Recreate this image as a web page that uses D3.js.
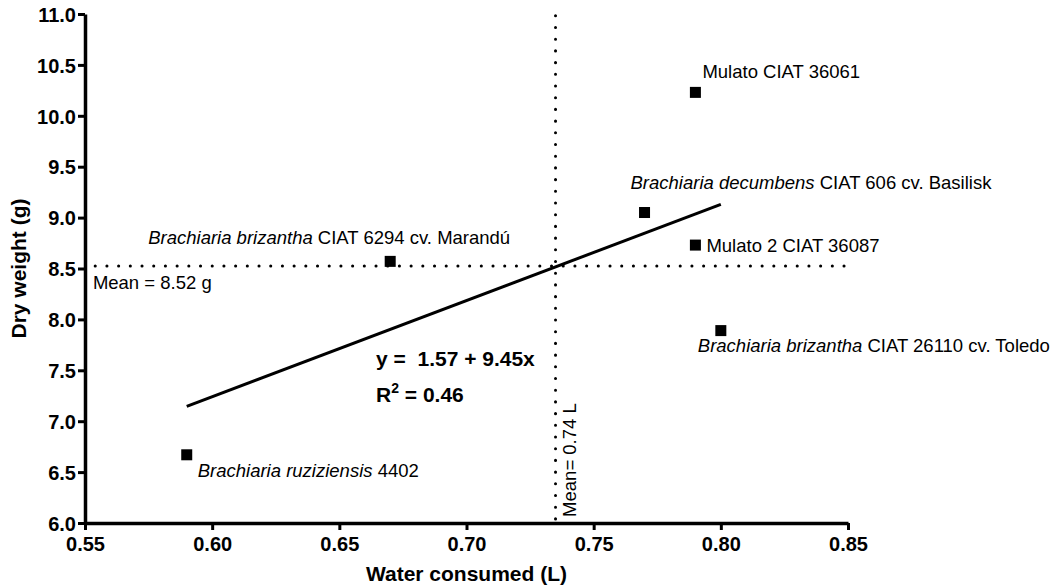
<!DOCTYPE html>
<html>
<head>
<meta charset="utf-8">
<script src="https://cdn.jsdelivr.net/npm/d3@7"></script>
<style>
  html, body { margin: 0; padding: 0; background: #fff; }
  svg { display: block; font-family: "Liberation Sans", Arial, sans-serif; }
</style>
</head>
<body>
<svg id="chart" width="1060" height="588"></svg>
<script>
// Accessions and their measurements
const accessions = [
  "Mulato CIAT 36061",
  "Brachiaria decumbens CIAT 606 cv. Basilisk",
  "Mulato 2 CIAT 36087",
  "Brachiaria brizantha CIAT 26110 cv. Toledo",
  "Brachiaria brizantha CIAT 6294 cv. Marandú",
  "Brachiaria ruziziensis 4402"
];
const waterConsumed = [0.79, 0.77, 0.79, 0.80, 0.67, 0.59];
const dryWeight = [10.23, 9.05, 8.73, 7.89, 8.57, 6.67];

// Label parts: [italic species part, roman remainder]
const labelParts = [
  ["", "Mulato CIAT 36061"],
  ["Brachiaria decumbens", " CIAT 606 cv. Basilisk"],
  ["", "Mulato 2 CIAT 36087"],
  ["Brachiaria brizantha", " CIAT 26110 cv. Toledo"],
  ["Brachiaria brizantha", " CIAT 6294 cv. Marandú"],
  ["Brachiaria ruziziensis", " 4402"]
];
// Label offsets relative to each marker (dx, dy)
const labelOffsets = [[7, -14], [-14, -24], [11, 7], [-23, 21], [-242, -17], [11, 22]];

const xTicks = [0.55, 0.60, 0.65, 0.70, 0.75, 0.80, 0.85];
const yTicks = [6.0, 6.5, 7.0, 7.5, 8.0, 8.5, 9.0, 9.5, 10.0, 10.5, 11.0];

// Linear fit reported for the data
const intercept = 1.57, slope = 9.45, rSquared = 0.46;

const svg = d3.select("#chart");
const x = d3.scaleLinear().domain([0.55, 0.85]).range([85, 848]);
const y = d3.scaleLinear().domain([6.0, 11.0]).range([523, 14]);

const meanX = d3.mean(waterConsumed);
const meanY = d3.mean(dryWeight);
const fmt2 = v => d3.format(".2f")(+v.toFixed(4) + 1e-9);

const labelSize = 18.5;

// Mean reference lines (dotted)
const dotted = { "stroke": "#000", "stroke-width": 3, "stroke-linecap": "round", "stroke-dasharray": "0.1 11.6", "fill": "none" };
const hLine = svg.append("line")
  .attr("x1", x(0.554)).attr("x2", x(0.85))
  .attr("y1", y(meanY)).attr("y2", y(meanY));
const vLine = svg.append("line")
  .attr("x1", x(meanX)).attr("x2", x(meanX))
  .attr("y1", y(6.04)).attr("y2", y(11.0));
for (const [k, v] of Object.entries(dotted)) { hLine.attr(k, v); vLine.attr(k, v); }

svg.append("text")
  .attr("x", x(0.5531)).attr("y", y(meanY) + 23)
  .attr("font-size", labelSize).text("Mean = " + fmt2(meanY) + " g");

svg.append("text")
  .attr("transform", `translate(${x(meanX) + 20},${y(6.06)}) rotate(-90)`)
  .attr("font-size", labelSize).text("Mean= " + fmt2(meanX) + " L");

// Regression line over the observed range
const xr = d3.extent(waterConsumed);
svg.append("line")
  .attr("x1", x(xr[0])).attr("y1", y(intercept + slope * xr[0]))
  .attr("x2", x(xr[1])).attr("y2", y(intercept + slope * xr[1]))
  .attr("stroke", "#000").attr("stroke-width", 3);

// Markers
const pts = waterConsumed.map((w, i) => ({ w, d: dryWeight[i], i }));
svg.selectAll("rect.pt").data(pts).enter().append("rect")
  .attr("class", "pt")
  .attr("x", p => x(p.w) - 5.5).attr("y", p => y(p.d) - 5.5)
  .attr("width", 11).attr("height", 11).attr("fill", "#000");

// Point labels
const labels = svg.selectAll("text.lbl").data(pts).enter().append("text")
  .attr("class", "lbl")
  .attr("x", p => x(p.w) + labelOffsets[p.i][0])
  .attr("y", p => y(p.d) + labelOffsets[p.i][1])
  .attr("font-size", labelSize);
labels.each(function (p) {
  const t = d3.select(this);
  const [it, rm] = labelParts[p.i];
  if (it) t.append("tspan").attr("font-style", "italic").text(it);
  t.append("tspan").text(rm);
});

// Equation and R²
svg.append("text").attr("x", 376).attr("y", 366)
  .attr("font-size", 21).attr("font-weight", "bold")
  .attr("xml:space", "preserve")
  .text(`y =  ${intercept.toFixed(2)} + ${slope.toFixed(2)}x`);
const r2 = svg.append("text").attr("x", 376).attr("y", 402)
  .attr("font-size", 21).attr("font-weight", "bold");
r2.append("tspan").text("R");
r2.append("tspan").attr("font-size", 14).attr("dy", -9).text("2");
r2.append("tspan").attr("dy", 9).text(" = " + rSquared.toFixed(2));

// Axes
const xAxis = d3.axisBottom(x).tickValues(xTicks).tickFormat(d3.format(".2f")).tickSize(7).tickSizeOuter(0);
const yAxis = d3.axisLeft(y).tickValues(yTicks).tickFormat(d3.format(".1f")).tickSize(7).tickSizeOuter(0);

const gx = svg.append("g").attr("transform", `translate(0,${y(6.0)})`).call(xAxis);
const gy = svg.append("g").attr("transform", `translate(${x(0.55)},0)`).call(yAxis);

[gx, gy].forEach(g => {
  g.attr("font-family", "'Liberation Sans', Arial, sans-serif").attr("font-size", 20);
  g.select(".domain").attr("stroke", "#000").attr("stroke-width", 3.5);
  g.selectAll(".tick line").attr("stroke", "#000").attr("stroke-width", 3);
  g.selectAll(".tick text")
    .attr("font-size", 20).attr("font-weight", "bold").attr("fill", "#000");
});
gx.selectAll(".tick text").attr("y", 28).attr("dy", 0);
gy.selectAll(".tick text").attr("x", -9).attr("dy", "0.36em");

// Axis titles
svg.append("text").attr("x", x(0.70)).attr("y", 581)
  .attr("text-anchor", "middle").attr("font-size", 21).attr("font-weight", "bold")
  .text("Water consumed (L)");
svg.append("text")
  .attr("transform", `translate(26,${(y(6) + y(11)) / 2}) rotate(-90)`)
  .attr("text-anchor", "middle").attr("font-size", 21).attr("font-weight", "bold")
  .text("Dry weight (g)");
</script>
</body>
</html>
